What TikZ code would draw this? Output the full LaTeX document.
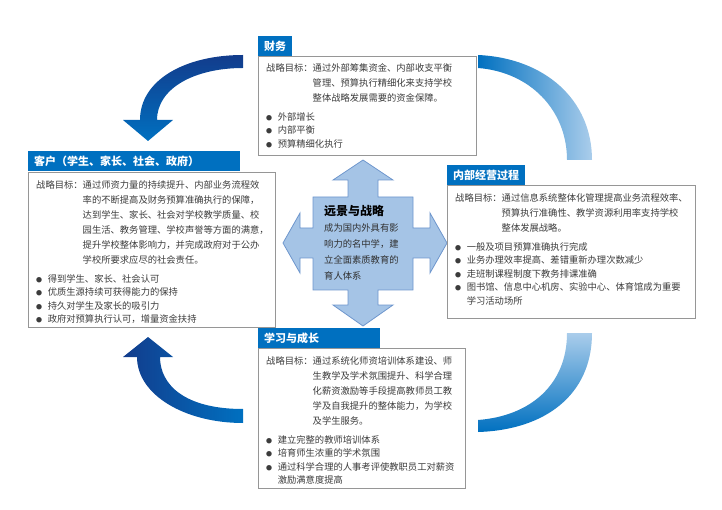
\documentclass[tikz,border=0pt]{standalone}
\usepackage{fontspec}
\newfontfamily\cjk{Noto Sans CJK SC}
\definecolor{hblue}{RGB}{0,112,192}
\definecolor{dblue}{RGB}{18,60,140}
\definecolor{lblue}{RGB}{170,205,235}
\definecolor{bgray}{RGB}{150,150,150}
\definecolor{crossf}{RGB}{165,196,230}
\definecolor{crossd}{RGB}{110,150,205}
\definecolor{txt}{RGB}{60,60,60}
\tikzset{
 hdr/.style={fill=hblue,text=white,font=\cjk\bfseries\fontsize{11}{13}\selectfont,anchor=north west,minimum height=20pt,inner xsep=6pt,inner ysep=0pt,text height=11pt,text depth=3pt},
 frame/.style={draw=bgray,fill=white,line width=0.8pt},
 body/.style={anchor=north west,align=left,text=txt,font=\cjk\fontsize{9.3}{15}\selectfont,inner sep=0pt},
}
\newcommand\ind{\hspace*{5em}}
\newcommand\bl{{\fontsize{6}{10}\selectfont●}\hspace{0.6em}}
\newcommand\bi{\hspace*{1.25em}}
\newcommand\nb{\\[-1.5pt]}
\begin{document}
\begin{tikzpicture}[x=1pt,y=-1pt]
\useasboundingbox (0,0) rectangle (722,510);
% curved arrows
\shade[top color=dblue,bottom color=hblue,shading angle=0]
 (243,55) .. controls (185,55) and (140,80) .. (140,120) -- (123,120) -- (148,141) -- (173,120) -- (157,120)
 .. controls (157,88) and (195,68) .. (243,68) -- cycle;
\shade[left color=dblue,right color=hblue]
 (243,409) .. controls (185,409) and (160,385) .. (160,357) -- (173,357) -- (148,337) -- (123,357) -- (137,357)
 .. controls (137,395) and (185,423) .. (243,423) -- cycle;
\shade[left color=hblue,right color=lblue]
 (478,55) .. controls (545,58) and (592,100) .. (592,160) -- (567,160)
 .. controls (567,110) and (530,72) .. (478,68) -- cycle;
\shade[bottom color=hblue,top color=lblue]
 (478,420) .. controls (530,416) and (567,385) .. (567,333) -- (592,333)
 .. controls (592,395) and (545,430) .. (478,432) -- cycle;
% cross
\draw[fill=crossf,draw=crossd,line width=0.8pt]
 (313,197) -- (348,197) -- (348,180) -- (333,180) -- (363,160) -- (393,180) -- (378,180) -- (378,197)
 -- (413,197) -- (413,228) -- (430,228) -- (430,213) -- (447,243) -- (430,273) -- (430,258) -- (413,258)
 -- (413,290) -- (378,290) -- (378,305) -- (393,305) -- (363,326) -- (333,305) -- (348,305) -- (348,290)
 -- (313,290) -- (313,258) -- (300,258) -- (300,273) -- (283,243) -- (300,213) -- (300,228) -- (313,228) -- cycle;
\node[anchor=north west,inner sep=0pt,font=\cjk\bfseries\fontsize{12}{14}\selectfont,text=black] (vt) at (324,205) {远景与战略};
\node[body,text=txt!80!black,font=\cjk\fontsize{9.3}{16}\selectfont] (vb) at (324,223) {成为国内外具有影\\响力的名中学，建\\立全面素质教育的\\育人体系};
% finance
\draw[frame] (258,56) rectangle (476,155);
\node[hdr] (fh) at (258,36) {财务};
\node[body] (fb) at (266,63) {战略目标：通过外部筹集资金、内部收支平衡\\\ind 管理、预算执行精细化来支持学校\\\ind 整体战略发展需要的资金保障。\\[4pt]\bl 外部增长\nb\bl 内部平衡\nb\bl 预算精细化执行};
% customers
\draw[frame] (28,172) rectangle (275,327);
\node[hdr,minimum width=212pt,align=left,text width=200pt] (ch) at (28,151) {客户（学生、家长、社会、政府）};
\node[body] (cb) at (36,180) {战略目标：通过师资力量的持续提升、内部业务流程效\\\ind 率的不断提高及财务预算准确执行的保障，\\\ind 达到学生、家长、社会对学校教学质量、校\\\ind 园生活、教务管理、学校声誉等方面的满意，\\\ind 提升学校整体影响力，并完成政府对于公办\\\ind 学校所要求应尽的社会责任。\\[4pt]\bl 得到学生、家长、社会认可\nb\bl 优质生源持续可获得能力的保持\nb\bl 持久对学生及家长的吸引力\nb\bl 政府对预算执行认可，增量资金扶持};
% internal
\draw[frame] (447,185) rectangle (695,318);
\node[hdr] (ih) at (447,165) {内部经营过程};
\node[body] (ib) at (455,193) {战略目标：通过信息系统整体化管理提高业务流程效率、\\\ind 预算执行准确性、教学资源利用率支持学校\\\ind 整体发展战略。\\[4pt]\bl 一般及项目预算准确执行完成\nb\bl 业务办理效率提高、差错重新办理次数减少\nb\bl 走班制课程制度下教务排课准确\nb\bl 图书馆、信息中心机房、实验中心、体育馆成为重要\nb\bi 学习活动场所};
% learning
\draw[frame] (258,348) rectangle (465,488);
\node[hdr,minimum width=122pt,align=left,text width=110pt] (lh) at (258,328) {学习与成长};
\node[body] (lb) at (266,356) {战略目标：通过系统化师资培训体系建设、师\\\ind 生教学及学术氛围提升、科学合理\\\ind 化薪资激励等手段提高教师员工教\\\ind 学及自我提升的整体能力，为学校\\\ind 及学生服务。\\[4pt]\bl 建立完整的教师培训体系\nb\bl 培育师生浓重的学术氛围\nb\bl 通过科学合理的人事考评使教职员工对薪资\nb\bi 激励满意度提高};
\end{tikzpicture}
\end{document}
